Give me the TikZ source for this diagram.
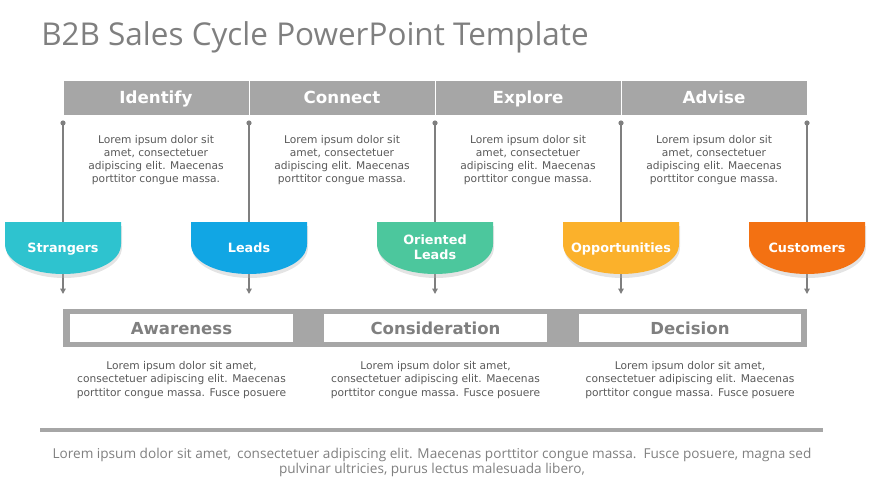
\documentclass[tikz,border=0pt]{standalone}
\usepackage{fontspec}
\setmainfont{DejaVu Sans}
\newfontfamily\titlefont{Open Sans}
\usetikzlibrary{arrows.meta,positioning}
\definecolor{bar}{HTML}{A6A6A6}
\definecolor{txt}{HTML}{595959}
\definecolor{lbl}{HTML}{7F7F7F}
\definecolor{cstr}{HTML}{2EC3CF}
\definecolor{clead}{HTML}{11A6E4}
\definecolor{cori}{HTML}{4CC79D}
\definecolor{copp}{HTML}{FBB12B}
\definecolor{ccus}{HTML}{F37112}
% cup shaped stage marker: #1 centre x, #2 colour
\newcommand{\stagecup}[2]{%
  \fill[black!30,opacity=.35] (#1-57,226) -- (#1+59,226) -- (#1+59,247) .. controls (#1+59,266) and (#1+31,278) .. (#1+1,278) .. controls (#1-29,278) and (#1-57,266) .. (#1-57,247) -- cycle;
  \fill[#2] (#1-58,222) -- (#1+58,222) -- (#1+58,244) .. controls (#1+58,263) and (#1+30,274) .. (#1,274) .. controls (#1-30,274) and (#1-58,263) .. (#1-58,244) -- cycle;}

\begin{document}
\begin{tikzpicture}[x=0.75pt,y=-0.75pt,
  cell/.style={fill=bar,draw=white,line width=0.6pt,minimum width=139.5pt,minimum height=26.25pt,inner sep=0pt,text height=9.1pt,text depth=0pt,font=\bfseries\fontsize{12.5}{14}\selectfont,text=white},
  body/.style={font=\fontsize{8}{9.9}\selectfont,text=txt,align=center,inner sep=0pt},
  tag/.style={font=\bfseries\fontsize{9.6}{11.25}\selectfont,text=white,align=center,inner sep=0pt},
  phase/.style={fill=white,minimum width=167pt,minimum height=21pt,inner sep=0pt,text height=9pt,text depth=0pt,font=\bfseries\fontsize{12.4}{14}\selectfont,text=lbl},
  arr/.style={-{Triangle[length=4pt,width=4pt]},draw=lbl,line width=1.1pt}]
  \useasboundingbox (0,0) rectangle (870,489);
  \node[anchor=base west,inner sep=0pt,font=\titlefont\fontsize{23.6}{27}\selectfont,text=lbl] (title) at (41,45) {B2B Sales Cycle PowerPoint Template};
  % header row
  \node[cell] (identify) at (156,97.5) {Identify};
  \node[cell] (connect) at (342,97.5) {Connect};
  \node[cell] (explore) at (528,97.5) {Explore};
  \node[cell] (advise) at (714,97.5) {Advise};
  \node[body] (t-identify) at (156,160) {Lorem ipsum dolor sit\\amet, consectetuer\\adipiscing elit. Maecenas\\porttitor congue massa.};
  \node[body] (t-connect) at (342,160) {Lorem ipsum dolor sit\\amet, consectetuer\\adipiscing elit. Maecenas\\porttitor congue massa.};
  \node[body] (t-explore) at (528,160) {Lorem ipsum dolor sit\\amet, consectetuer\\adipiscing elit. Maecenas\\porttitor congue massa.};
  \node[body] (t-advise) at (714,160) {Lorem ipsum dolor sit\\amet, consectetuer\\adipiscing elit. Maecenas\\porttitor congue massa.};
  % stage lines
  \foreach \x [count=\i] in {63,249,435,621,807} {
    \coordinate (top\i) at (\x,123); \coordinate (end\i) at (\x,294);
    \draw[arr] (top\i) -- (end\i);
    \fill[lbl] (top\i) circle (2.6);
  }
  \stagecup{63}{cstr} \stagecup{249}{clead} \stagecup{435}{cori} \stagecup{621}{copp} \stagecup{807}{ccus}
  \node[tag,anchor=base] (strangers) at (63,252) {Strangers};
  \node[tag,anchor=base] (leads) at (249,252) {Leads};
  \node[tag] (oriented) at (435,247) {Oriented\\Leads};
  \node[tag,anchor=base] (opport) at (621,252) {Opportunities};
  \node[tag,anchor=base] (customers) at (807,252) {Customers};
  % phase row
  \fill[bar] (63,309) rectangle (807,347);
  \node[phase] (awareness) at (181.5,328) {Awareness};
  \node[phase] (consider) at (435.5,328) {Consideration};
  \node[phase] (decision) at (690,328) {Decision};
  \node[body] (t-awareness) at (181.5,380) {Lorem ipsum dolor sit amet,\\consectetuer adipiscing elit. Maecenas\\porttitor congue massa. Fusce posuere};
  \node[body] (t-consider) at (435.5,380) {Lorem ipsum dolor sit amet,\\consectetuer adipiscing elit. Maecenas\\porttitor congue massa. Fusce posuere};
  \node[body] (t-decision) at (690,380) {Lorem ipsum dolor sit amet,\\consectetuer adipiscing elit. Maecenas\\porttitor congue massa. Fusce posuere};
  % footer
  \fill[bar] (40,428) rectangle (823,432);
  \node[align=center,inner sep=0pt,font=\titlefont\fontsize{10.2}{10.6}\selectfont,text=lbl] (footer) at (432,462.5) {Lorem ipsum dolor sit amet,\, consectetuer adipiscing elit. Maecenas porttitor congue massa.\, Fusce posuere, magna sed\\pulvinar ultricies, purus lectus malesuada libero,};
\end{tikzpicture}
\end{document}
